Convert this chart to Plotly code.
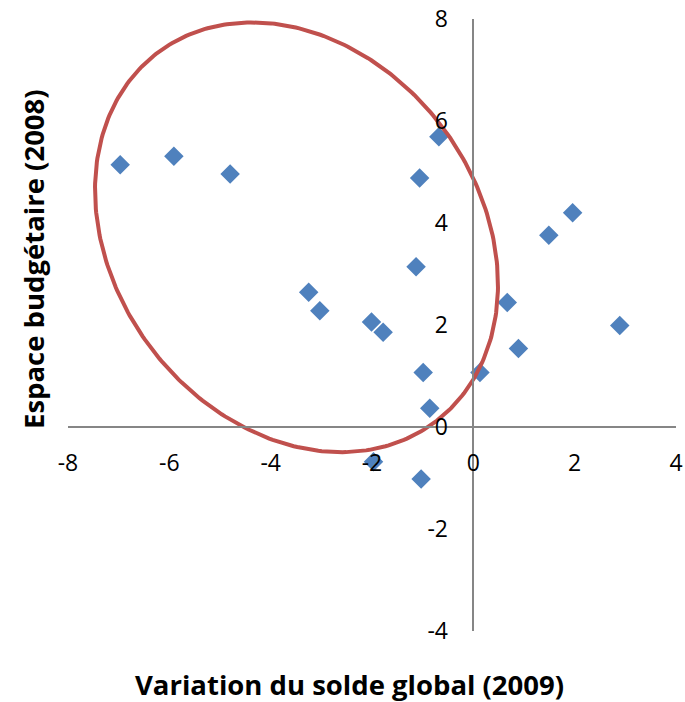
import numpy as np
import plotly.graph_objects as go

# Data
variation_solde_2009 = [-6.97, -5.91, -4.80, -0.68, -1.06, 1.96, 1.49, -1.13, -3.25, -3.03,
                        0.67, -2.01, -1.78, 2.89, 0.89, -0.99, 0.13, -0.86, -1.97, -1.03]
espace_budgetaire_2008 = [5.14, 5.31, 4.96, 5.69, 4.88, 4.20, 3.76, 3.14, 2.64, 2.28,
                          2.44, 2.06, 1.86, 1.99, 1.54, 1.07, 1.07, 0.37, -0.68, -1.02]

x_range = [-8, 4]
y_range = [-4, 8]
x_ticks = [-8, -6, -4, -2, 0, 2, 4]
y_ticks = [-4, -2, 0, 2, 4, 6, 8]
x_tick_labels = ["-8", "-6", "-4", "-2", "0", "2", "4"]
y_tick_labels = ["-4", "-2", "0", "2", "4", "6", "8"]

# Highlight ellipse (annotation) parameters
ell_center = (-3.49, 3.72)
ell_semi_axes = (4.54, 3.60)
ell_angle_deg = -52.35

t = np.linspace(0, 2 * np.pi, 361)
th = np.deg2rad(ell_angle_deg)
ex = ell_center[0] + ell_semi_axes[0] * np.cos(t) * np.cos(th) - ell_semi_axes[1] * np.sin(t) * np.sin(th)
ey = ell_center[1] + ell_semi_axes[0] * np.cos(t) * np.sin(th) + ell_semi_axes[1] * np.sin(t) * np.cos(th)

fig = go.Figure()
fig.add_trace(go.Scatter(
    x=variation_solde_2009, y=espace_budgetaire_2008, mode="markers",
    marker=dict(symbol="diamond", size=15, color="#4F81BD", line=dict(width=0)),
    showlegend=False, hoverinfo="x+y",
))
fig.add_trace(go.Scatter(
    x=ex, y=ey, mode="lines", line=dict(color="#C0504D", width=4),
    showlegend=False, hoverinfo="skip",
))

axis_font = dict(family="Open Sans", size=23, color="#000000")
fig.update_layout(
    width=685, height=702,
    margin=dict(l=68, r=9, t=19, b=71),
    paper_bgcolor="white", plot_bgcolor="white",
    font=dict(family="Open Sans"),
    xaxis=dict(
        range=x_range, tickvals=x_ticks, ticktext=x_tick_labels,
        showgrid=False, zeroline=False, automargin=False,
        showline=True, linecolor="#868686", linewidth=1.5,
        anchor="free", position=(0 - y_range[0]) / (y_range[1] - y_range[0]),
        ticks="", ticklabelstandoff=16, tickfont=axis_font,
    ),
    yaxis=dict(
        range=y_range, tickvals=y_ticks, ticktext=y_tick_labels,
        showgrid=False, zeroline=False, automargin=False,
        showline=True, linecolor="#868686", linewidth=1.5,
        anchor="free", position=(0 - x_range[0]) / (x_range[1] - x_range[0]),
        ticks="", ticklabelstandoff=20, tickfont=axis_font,
    ),
    annotations=[
        dict(text="<b>Variation du solde global (2009)</b>", xref="paper", yref="paper",
             x=(349 - 68) / 608, y=(631 - 684) / 612, showarrow=False,
             font=dict(family="Open Sans", size=27.5, color="#000000"),
             xanchor="center", yanchor="middle"),
        dict(text="<b>Espace budgétaire (2008)</b>", xref="paper", yref="paper",
             x=(33 - 68) / 608, y=(631 - 259) / 612, showarrow=False, textangle=-90,
             font=dict(family="Open Sans", size=27.5, color="#000000"),
             xanchor="center", yanchor="middle"),
    ],
)

fig.write_html("out.html", config={"displayModeBar": False},
               post_script="document.body.style.margin='0';")
